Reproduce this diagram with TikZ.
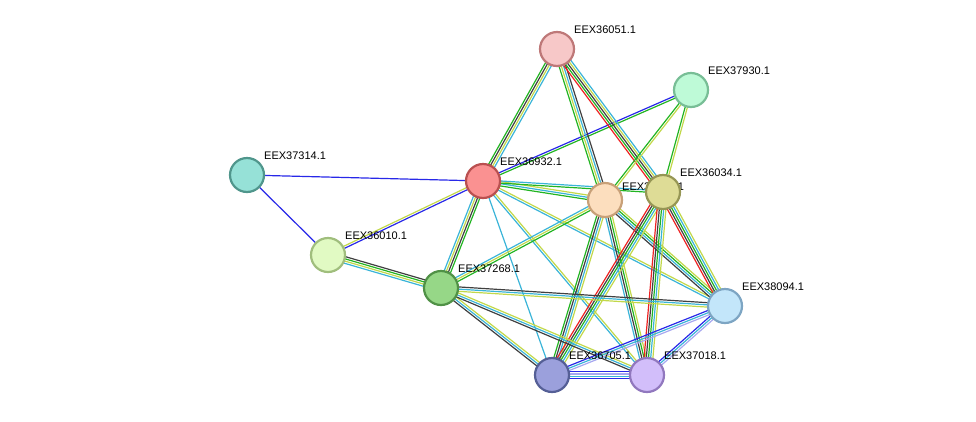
\documentclass[tikz,border=0pt]{standalone}
\usepackage{fontspec}
\setmainfont{Liberation Sans}
\usetikzlibrary{calc}
\definecolor{sgreen}{HTML}{22B422}
\definecolor{syellow}{HTML}{C2D84A}
\definecolor{scyan}{HTML}{3AB4D8}
\definecolor{sblack}{HTML}{404040}
\definecolor{sred}{HTML}{EE2222}
\definecolor{sblue}{HTML}{2828E8}
\definecolor{slav}{HTML}{A8A8F0}
\tikzset{prot/.style={circle,draw,line width=2.2pt,minimum size=34pt,inner sep=0pt},
 lab/.style={anchor=south west,font=\fontsize{11pt}{12pt}\selectfont,inner sep=1pt},
 link/.style={line width=1.2pt}}
\newcommand\edgeset[4]{\foreach \c [count=\i] in {#4} {
  \pgfmathsetmacro\o{(\i-(#3+1)/2)*2.2}
  \draw[link,\c] ($(#1)!\o pt!90:(#2)$) -- ($(#2)!\o pt!-90:(#1)$);}}
\begin{document}
\begin{tikzpicture}[x=1pt,y=-1pt]
\useasboundingbox (0,0) rectangle (976,421);
\coordinate (c51) at (557,49);
\coordinate (c30) at (691,90);
\coordinate (c14) at (247,175);
\coordinate (c32) at (483,181);
\coordinate (c33) at (605,200);
\coordinate (c34) at (663,192);
\coordinate (c10) at (328,255);
\coordinate (c68) at (441,288);
\coordinate (c94) at (725,306);
\coordinate (c05) at (552,375);
\coordinate (c18) at (647,375);
\edgeset{c14}{c32}{1}{sblue}
\edgeset{c14}{c10}{1}{sblue}
\edgeset{c32}{c10}{2}{syellow,sblue}
\edgeset{c10}{c68}{4}{scyan,syellow,sgreen,sblack}
\edgeset{c32}{c68}{4}{scyan,syellow,sblack,sgreen}
\edgeset{c32}{c51}{4}{scyan,syellow,sblack,sgreen}
\edgeset{c32}{c30}{2}{sgreen,sblue}
\edgeset{c32}{c33}{3}{sgreen,scyan,syellow}
\edgeset{c32}{c34}{2}{sgreen,scyan}
\edgeset{c32}{c94}{2}{scyan,syellow}
\edgeset{c32}{c05}{1}{scyan}
\edgeset{c32}{c18}{2}{scyan,syellow}
\edgeset{c51}{c33}{4}{sgreen,syellow,scyan,sblack}
\edgeset{c51}{c34}{5}{sred,sgreen,sblack,syellow,scyan}
\edgeset{c30}{c33}{2}{sgreen,syellow}
\edgeset{c30}{c34}{2}{sgreen,syellow}
\edgeset{c33}{c68}{3}{scyan,syellow,sgreen}
\edgeset{c33}{c05}{4}{sgreen,sblack,scyan,syellow}
\edgeset{c33}{c18}{4}{scyan,sblack,sgreen,syellow}
\edgeset{c33}{c94}{4}{sblack,scyan,sgreen,syellow}
\edgeset{c34}{c05}{5}{sred,sblack,sgreen,scyan,syellow}
\edgeset{c34}{c18}{5}{sred,sblack,sgreen,scyan,syellow}
\edgeset{c34}{c94}{5}{sred,sblack,sgreen,scyan,syellow}
\edgeset{c68}{c94}{3}{syellow,scyan,sblack}
\edgeset{c68}{c05}{3}{sblack,scyan,syellow}
\edgeset{c68}{c18}{3}{sblack,scyan,syellow}
\edgeset{c94}{c05}{3}{sblue,scyan,slav}
\edgeset{c94}{c18}{3}{sblue,scyan,slav}
\edgeset{c05}{c18}{4}{sblue,scyan,slav,sblue}
\node[prot,fill={rgb,255:red,247;green,200;blue,200},draw={rgb,255:red,190;green,120;blue,120}] (n51) at (c51) {};
\node[prot,fill={rgb,255:red,190;green,250;blue,215},draw={rgb,255:red,120;green,190;blue,150}] (n30) at (c30) {};
\node[prot,fill={rgb,255:red,150;green,225;blue,215},draw={rgb,255:red,80;green,150;blue,140}] (n14) at (c14) {};
\node[prot,fill={rgb,255:red,250;green,145;blue,145},draw={rgb,255:red,185;green,80;blue,80}] (n32) at (c32) {};
\node[prot,fill={rgb,255:red,252;green,222;blue,190},draw={rgb,255:red,200;green,160;blue,120}] (n33) at (c33) {};
\node[lab] at ($(c33)+(16,-8)$) {EEX36033.1};
\node[prot,fill={rgb,255:red,222;green,220;blue,150},draw={rgb,255:red,150;green,150;blue,85}] (n34) at (c34) {};
\node[prot,fill={rgb,255:red,225;green,250;blue,195},draw={rgb,255:red,160;green,190;blue,125}] (n10) at (c10) {};
\node[prot,fill={rgb,255:red,150;green,215;blue,135},draw={rgb,255:red,80;green,145;blue,70}] (n68) at (c68) {};
\node[prot,fill={rgb,255:red,195;green,230;blue,250},draw={rgb,255:red,125;green,165;blue,195}] (n94) at (c94) {};
\node[prot,fill={rgb,255:red,155;green,160;blue,220},draw={rgb,255:red,85;green,95;blue,150}] (n05) at (c05) {};
\node[prot,fill={rgb,255:red,210;green,190;blue,250},draw={rgb,255:red,145;green,120;blue,190}] (n18) at (c18) {};
\node[lab] at ($(c51)+(16,-14)$) {EEX36051.1};
\node[lab] at ($(c30)+(16,-14)$) {EEX37930.1};
\node[lab] at ($(c14)+(16,-14)$) {EEX37314.1};
\node[lab] at ($(c32)+(16,-14)$) {EEX36932.1};
\node[lab] at ($(c34)+(16,-14)$) {EEX36034.1};
\node[lab] at ($(c10)+(16,-14)$) {EEX36010.1};
\node[lab] at ($(c68)+(16,-14)$) {EEX37268.1};
\node[lab] at ($(c94)+(16,-14)$) {EEX38094.1};
\node[lab] at ($(c05)+(16,-14)$) {EEX36705.1};
\node[lab] at ($(c18)+(16,-14)$) {EEX37018.1};
\end{tikzpicture}
\end{document}
